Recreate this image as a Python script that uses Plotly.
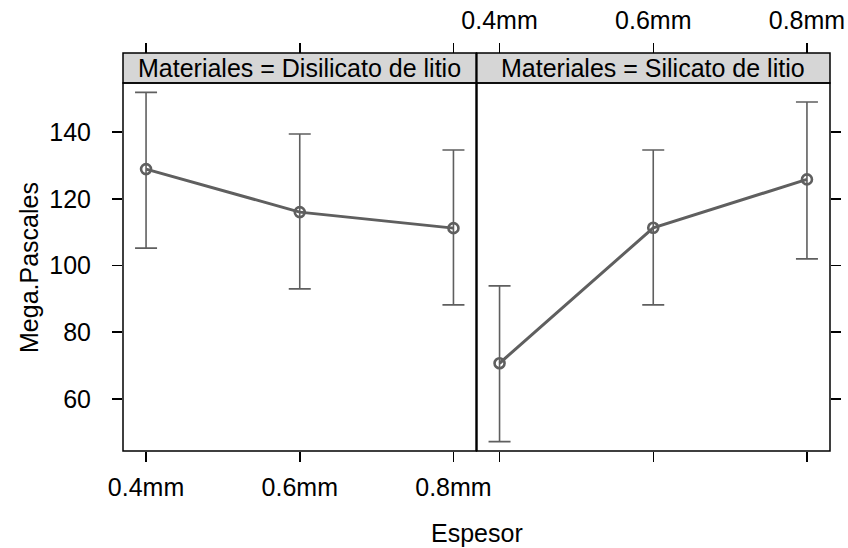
import plotly.graph_objects as go

levels = ["0.4mm", "0.6mm", "0.8mm"]
panels = ["Materiales = Disilicato de litio", "Materiales = Silicato de litio"]
mean_dis = [128.9, 116.0, 111.2]
upper_dis = [151.9, 139.4, 134.6]
lower_dis = [105.2, 93.0, 88.2]
mean_sil = [70.7, 111.3, 125.8]
upper_sil = [93.9, 134.6, 149.0]
lower_sil = [47.2, 88.2, 102.0]
y_ticks = [60, 80, 100, 120, 140]

W, H = 848, 548
ML, MR, MT, MB = 123, 18, 53, 97
plot_h = H - MT - MB
strip_h = 30
ydom_top = (plot_h - strip_h) / plot_h

LINE = "#5f5f5f"
FONT = "Liberation Sans, Arial, Helvetica, sans-serif"
FS = 25

xpos = [1, 2, 3]
xr = [0.85, 3.15]
yr = [44.4, 154.7]

fig = go.Figure()

def add_panel(means, ups, lows, xa, ya):
    fig.add_trace(go.Scatter(
        x=xpos, y=means, xaxis=xa, yaxis=ya, mode="lines+markers",
        line=dict(color=LINE, width=3),
        marker=dict(symbol="circle-open", size=10, color=LINE, line=dict(width=2.6, color=LINE)),
        error_y=dict(type="data", symmetric=False,
                     array=[u - m for u, m in zip(ups, means)],
                     arrayminus=[m - l for m, l in zip(means, lows)],
                     color=LINE, thickness=1.6, width=11),
        showlegend=False, hoverinfo="skip"))

add_panel(mean_dis, upper_dis, lower_dis, "x", "y")
add_panel(mean_sil, upper_sil, lower_sil, "x2", "y2")

tickfont = dict(family=FONT, size=FS, color="black")
common_x = dict(range=xr, tickvals=xpos, ticktext=levels, ticks="outside", ticklen=10,
                tickwidth=1.5, tickcolor="black", showgrid=False, zeroline=False,
                showline=False, tickfont=tickfont, fixedrange=True, ticklabelstandoff=4)
common_y = dict(range=yr, tickvals=y_ticks, ticks="outside", ticklen=10, tickwidth=1.5,
                tickcolor="black", showgrid=False, zeroline=False, showline=False,
                tickfont=tickfont, domain=[0, ydom_top], fixedrange=True, ticklabelstandoff=16)

fig.update_layout(
    xaxis=dict(domain=[0, 0.5], anchor="y", side="bottom", showticklabels=True, **common_x),
    xaxis2=dict(domain=[0.5, 1], anchor="y2", side="bottom", showticklabels=False, **common_x),
    xaxis3=dict(domain=[0, 0.5], anchor="free", position=1, overlaying="x", side="top",
                showticklabels=False, **common_x),
    xaxis4=dict(domain=[0.5, 1], anchor="free", position=1, overlaying="x2", side="top",
                showticklabels=True, **common_x),
    yaxis=dict(anchor="x", side="left", showticklabels=True, **common_y),
    yaxis2=dict(anchor="x2", side="right", showticklabels=False, matches="y", **common_y),
)
fig.add_trace(go.Scatter(x=[None], y=[None], xaxis="x3", yaxis="y", showlegend=False))
fig.add_trace(go.Scatter(x=[None], y=[None], xaxis="x4", yaxis="y2", showlegend=False))

shapes = []
for x0, x1 in [(0, 0.5), (0.5, 1)]:
    shapes.append(dict(type="rect", xref="paper", yref="paper", x0=x0, x1=x1, y0=ydom_top, y1=1,
                       fillcolor="#d6d6d6", line=dict(color="black", width=1.5), layer="below"))
    shapes.append(dict(type="rect", xref="paper", yref="paper", x0=x0, x1=x1, y0=0, y1=ydom_top,
                       fillcolor="rgba(0,0,0,0)", line=dict(color="black", width=1.5), layer="above"))
shapes.append(dict(type="line", xref="paper", yref="paper", x0=0.5, x1=0.5, y0=0, y1=1,
                   line=dict(color="black", width=2)))

annotations = []
for i, name in enumerate(panels):
    annotations.append(dict(text=name, xref="paper", yref="paper", x=0.25 + 0.5 * i,
                            y=(ydom_top + 1) / 2, showarrow=False, xanchor="center", yanchor="middle",
                            font=dict(family=FONT, size=FS, color="black")))
annotations.append(dict(text="Espesor", xref="paper", yref="paper", x=0.5, y=-(533 - (H - MB)) / plot_h,
                        showarrow=False, xanchor="center", yanchor="middle",
                        font=dict(family=FONT, size=FS, color="black")))
annotations.append(dict(text="Mega.Pascales", xref="paper", yref="paper",
                        x=-(ML - 29) / (W - ML - MR), y=1 - (267 - MT) / plot_h,
                        showarrow=False, xanchor="center", yanchor="middle", textangle=-90,
                        font=dict(family=FONT, size=FS, color="black")))

fig.update_layout(width=W, height=H, margin=dict(l=ML, r=MR, t=MT, b=MB, autoexpand=False),
                  paper_bgcolor="white", plot_bgcolor="white", shapes=shapes,
                  annotations=annotations, showlegend=False)

fig.write_html("out.html", config={"displayModeBar": False, "staticPlot": True},
               post_script="document.body.style.margin='0';document.body.style.overflow='hidden';")
